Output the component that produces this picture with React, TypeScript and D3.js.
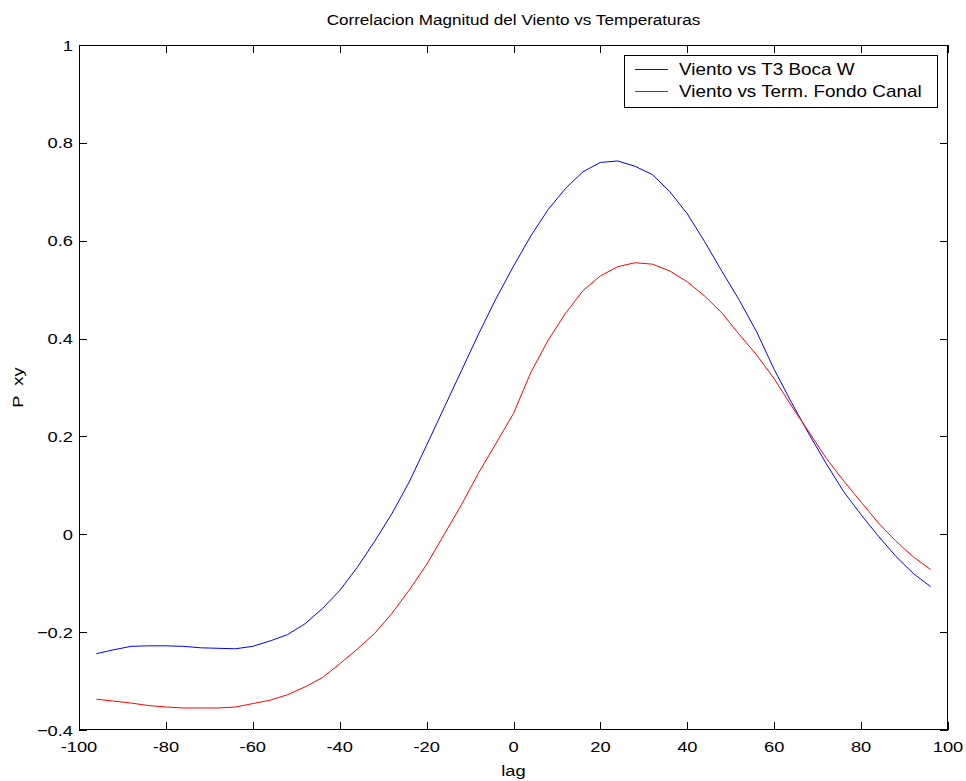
import React from "react";
import * as d3 from "d3";

const lags: number[] = [
  -96, -92, -88, -84, -80, -76, -72, -68, -64, -60, -56, -52, -48, -44, -40, -36, -32, -28, -24, -20, -16, -12, -8, -4,
  0, 4, 8, 12, 16, 20, 24, 28, 32, 36, 40, 44, 48, 52, 56, 60, 64, 68, 72, 76, 80, 84, 88, 92, 96,
];

const vientoT3: number[] = [
  -0.244, -0.236, -0.229, -0.228, -0.228, -0.229, -0.232, -0.233, -0.234, -0.229, -0.218, -0.205, -0.183, -0.152,
  -0.115, -0.068, -0.015, 0.042, 0.107, 0.182, 0.258, 0.334, 0.410, 0.482, 0.548, 0.610, 0.664, 0.707, 0.741, 0.760,
  0.763, 0.752, 0.735, 0.700, 0.655, 0.598, 0.537, 0.478, 0.413, 0.337, 0.269, 0.205, 0.144, 0.087, 0.040, -0.004,
  -0.045, -0.080, -0.107,
];

const vientoFondo: number[] = [
  -0.337, -0.341, -0.345, -0.35, -0.353, -0.355, -0.355, -0.355, -0.353, -0.346, -0.339, -0.328, -0.312, -0.293,
  -0.265, -0.235, -0.203, -0.162, -0.114, -0.062, -0.001, 0.06, 0.126, 0.186, 0.247, 0.331, 0.397, 0.452, 0.498,
  0.528, 0.547, 0.555, 0.552, 0.538, 0.516, 0.487, 0.452, 0.408, 0.366, 0.318, 0.262, 0.209, 0.155, 0.109, 0.066,
  0.023, -0.014, -0.046, -0.072,
];

const xTicks: number[] = [-100, -80, -60, -40, -20, 0, 20, 40, 60, 80, 100];
const yTicks: number[] = [-0.4, -0.2, 0, 0.2, 0.4, 0.6, 0.8, 1];

const seriesNames: string[] = ["Viento vs T3 Boca W", "Viento vs Term. Fondo Canal"];
const seriesColors: string[] = ["#0000ff", "#ff0000"];

const W = 966;
const H = 781;
const L = 79;
const R = 948;
const T = 45;
const B = 730;
const FONT = "'Liberation Sans', Arial, Helvetica, sans-serif";
const SX = 1.18;

function T_({
  x,
  y,
  size,
  anchor,
  children,
  rotate,
}: {
  x: number;
  y: number;
  size: number;
  anchor?: "start" | "middle" | "end";
  children: React.ReactNode;
  rotate?: number;
}) {
  const tr = rotate
    ? `translate(${x},${y}) rotate(${rotate}) scale(${SX},1)`
    : `translate(${x},${y}) scale(${SX},1)`;
  return (
    <g transform={tr}>
      <text x={0} y={0} fontSize={size} textAnchor={anchor || "start"} fill="#000" style={{ whiteSpace: "pre" }}>
        {children}
      </text>
    </g>
  );
}

export default function App() {
  const x = d3.scaleLinear().domain([-100, 100]).range([L, R]);
  const y = d3.scaleLinear().domain([-0.4, 1]).range([B, T]);
  const line = d3
    .line<[number, number]>()
    .x((d) => x(d[0]))
    .y((d) => y(d[1]));
  const series = [vientoT3, vientoFondo];
  const tickLen = 8;
  const fmtY = (v: number) => (v === 0 ? "0" : v === 1 ? "1" : d3.format(".1f")(v));

  return (
    <div style={{ position: "absolute", left: 0, top: 0 }}>
      <svg width={W} height={H} style={{ display: "block", background: "#fff" }} fontFamily={FONT}>
        <rect x={0} y={0} width={W} height={H} fill="#fff" />
        {series.map((s, i) => (
          <path
            key={i}
            d={line(lags.map((l, j) => [l, s[j]]) as [number, number][]) || ""}
            fill="none"
            stroke={seriesColors[i]}
            strokeWidth={1}
          />
        ))}
        <rect x={L + 0.5} y={T + 0.5} width={R - L - 1} height={B - T - 1} fill="none" stroke="#000" strokeWidth={1} />
        {xTicks.map((t) => (
          <g key={"x" + t}>
            <line x1={Math.round(x(t)) + 0.5} x2={Math.round(x(t)) + 0.5} y1={B} y2={B - tickLen} stroke="#000" />
            <line x1={Math.round(x(t)) + 0.5} x2={Math.round(x(t)) + 0.5} y1={T} y2={T + tickLen} stroke="#000" />
            <T_ x={x(t)} y={752} size={15.5} anchor="middle">
              {String(t)}
            </T_>
          </g>
        ))}
        {yTicks.map((t) => (
          <g key={"y" + t}>
            <line x1={L} x2={L + tickLen} y1={Math.round(y(t)) + 0.5} y2={Math.round(y(t)) + 0.5} stroke="#000" />
            <line x1={R} x2={R - tickLen} y1={Math.round(y(t)) + 0.5} y2={Math.round(y(t)) + 0.5} stroke="#000" />
            <T_ x={73} y={y(t) + 5.6} size={15.5} anchor="end">
              {fmtY(t)}
            </T_>
          </g>
        ))}
        <T_ x={(L + R) / 2} y={25} size={14.5} anchor="middle">
          Correlacion Magnitud del Viento vs Temperaturas
        </T_>
        <T_ x={(L + R) / 2} y={776} size={15.5} anchor="middle">
          lag
        </T_>
        <T_ x={23} y={(T + B) / 2} size={15.5} anchor="middle" rotate={-90}>
          {"P  xy"}
        </T_>
        <rect x={624.5} y={55.5} width={313} height={52} fill="#fff" stroke="#000" strokeWidth={1} />
        {seriesNames.map((n, i) => (
          <g key={n}>
            <line x1={635} x2={668} y1={69.5 + i * 22} y2={69.5 + i * 22} stroke={seriesColors[i]} strokeWidth={1} />
            <T_ x={679} y={75 + i * 22} size={16}>
              {n}
            </T_>
          </g>
        ))}
      </svg>
    </div>
  );
}
